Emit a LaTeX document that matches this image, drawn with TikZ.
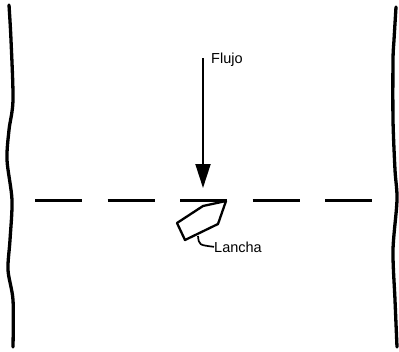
\documentclass[tikz,border=0pt]{standalone}
\usepackage{fontspec}
\setmainfont{Liberation Sans}
\usetikzlibrary{arrows.meta}
\begin{document}
\begin{tikzpicture}[x=1pt,y=-1pt,
  bank/.style={line width=3.3pt,line cap=round,line join=round},
  axisline/.style={line width=2.2pt,dash pattern=on 47pt off 25.5pt},
  flowarrow/.style={line width=2pt,-{Triangle[length=24pt,width=15pt]}},
  boat/.style={line width=2.3pt,line join=round},
  label/.style={font=\fontsize{14.5}{17}\selectfont,inner sep=0pt,anchor=base west},
  leader/.style={line width=1.7pt}]
\useasboundingbox (0,0) rectangle (399,351);
% river banks
\draw[bank] plot[smooth] coordinates {(9,5) (11,40) (13,100) (9,130) (7,160) (12,200) (10,240) (8,270) (13,300) (13,347)};
\draw[bank] plot[smooth] coordinates {(396,7) (394,40) (393,60) (393,120) (395,170) (397,200) (393,250) (395,300) (397,347)};
% centre line across the channel
\coordinate (lineL) at (35,200.5);
\coordinate (lineR) at (373,200.5);
\draw[axisline] (lineL) -- (lineR);
% flow direction
\coordinate (flowtop) at (203,58);
\coordinate (flowtip) at (203,188);
\draw[flowarrow] (flowtop) -- (flowtip);
\node[label] (flujo) at (211,63) {Flujo};
% launch
\draw[boat] (177,223) -- (203,206) -- (226,201) -- (218,224) -- (185,240) -- cycle;
\coordinate (hull) at (198,236);
\node[label] (lancha) at (214,252) {Lancha};
\draw[leader] (hull) .. controls (199,245) .. (lancha.west);
\end{tikzpicture}
\end{document}
